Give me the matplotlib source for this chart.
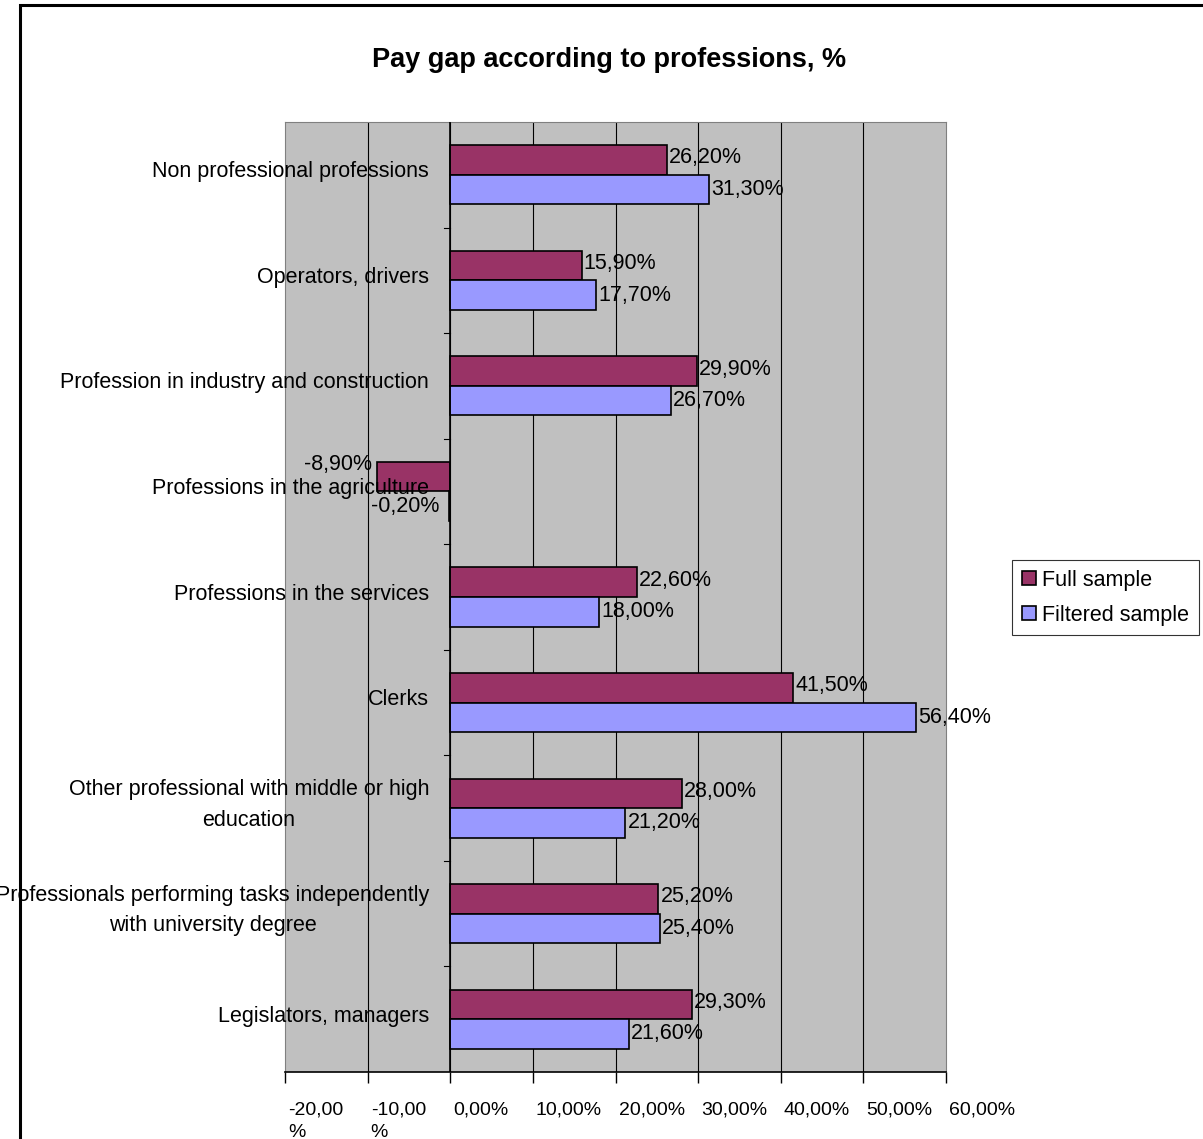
import numpy as np
import matplotlib.pyplot as plt
import matplotlib.transforms as mtrans
from matplotlib import patches

plt.rcParams['font.family'] = ['Liberation Sans', 'DejaVu Sans']

# categories listed top to bottom as in the chart
categories = ['Non professional professions',
              'Operators, drivers',
              'Profession in industry and construction',
              'Professions in the agriculture',
              'Professions in the services',
              'Clerks',
              'Other professional with middle or high\neducation',
              'Professionals performing tasks independently\nwith university degree',
              'Legislators, managers']
full_sample = [26.2, 15.9, 29.9, -8.9, 22.6, 41.5, 28.0, 25.2, 29.3]
filtered_sample = [31.3, 17.7, 26.7, -0.2, 18.0, 56.4, 21.2, 25.4, 21.6]
xticks = [-20, -10, 0, 10, 20, 30, 40, 50, 60]
xticklabels = ['-20,00\n%', '-10,00\n%', '0,00%', '10,00%', '20,00%',
               '30,00%', '40,00%', '50,00%', '60,00%']

def pct(v):
    return ('%.2f' % v).replace('.', ',') + '%'

W, H = 1203, 1139
fig = plt.figure(figsize=(W / 100, H / 100), dpi=100)
ax = fig.add_axes([285 / W, 1 - 1072 / H, (946 - 285) / W, (1072 - 122) / H])
ax.set_facecolor('#C0C0C0')

y = np.arange(len(categories))
h = 0.28
b1 = ax.barh(y - h / 2, full_sample, height=h, color='#993366',
             edgecolor='black', linewidth=1.2, label='Full sample', zorder=3)
b2 = ax.barh(y + h / 2, filtered_sample, height=h, color='#9999FF',
             edgecolor='black', linewidth=1.2, label='Filtered sample', zorder=3)

ax.set_xlim(-20, 60)
ax.set_ylim(len(categories) - 0.5, -0.5)

# gridlines
for x in xticks[1:-1]:
    ax.axvline(x, color='black', linewidth=0.8, zorder=1)
for s in ['top', 'right', 'left']:
    ax.spines[s].set_color('#808080')
ax.spines['bottom'].set_color('black')
ax.spines['bottom'].set_linewidth(1.2)

# category axis at zero with ticks between categories
ax.axvline(0, color='black', linewidth=1.2, zorder=4)
ax.set_yticks([])
for b in np.arange(0.5, len(categories) - 0.5, 1.0):
    ax.plot([-0.75, 0], [b, b], color='black', linewidth=0.8, zorder=4,
            clip_on=False)

ax.set_xticks(xticks)
ax.set_xticklabels(xticklabels, ha='left', fontsize=14, linespacing=1.45)
ax.tick_params(axis='x', direction='out', length=8, width=1, pad=13)
off = mtrans.ScaledTranslation(3 / 100, 0, fig.dpi_scale_trans)
for lab in ax.get_xticklabels():
    lab.set_transform(lab.get_transform() + off)

# category labels
for yi, c in zip(y, categories):
    ax.annotate(c, xy=(0, yi), xytext=(-21, 3), textcoords='offset pixels',
                ha='right', va='center', multialignment='center',
                fontsize=15.5, zorder=6, annotation_clip=False,
                linespacing=1.6)

# data labels
for bars, vals, dy, dxn in [(b1, full_sample, 2, -5), (b2, filtered_sample, 0, -9)]:
    for r, v in zip(bars, vals):
        yc = r.get_y() + r.get_height() / 2
        if v >= 0:
            ax.annotate(pct(v), xy=(v, yc), xytext=(2, dy),
                        textcoords='offset pixels', ha='left', va='center',
                        fontsize=15.5, zorder=6)
        else:
            ax.annotate(pct(v), xy=(v, yc), xytext=(dxn, dy + 10 if dxn == -5 else dy),
                        textcoords='offset pixels', ha='right', va='center',
                        fontsize=15.5, zorder=6)

fig.text(609 / W, 1 - 60 / H, 'Pay gap according to professions, %',
         ha='center', va='center', fontsize=19.5, fontweight='bold')

leg = fig.legend(handles=[b1, b2], loc='upper left',
                 bbox_to_anchor=(1012 / W, 1 - 560 / H), fontsize=15.5,
                 frameon=True, fancybox=False, handlelength=0.65,
                 handleheight=0.65, handletextpad=0.3, borderpad=0.45,
                 labelspacing=0.65, borderaxespad=0)
leg.get_frame().set_edgecolor('black')
leg.get_frame().set_linewidth(0.8)

# outer chart frame
fig.patches.append(patches.Rectangle((20 / W, -0.1), 1.2, 1 - 5 / H + 0.1,
                                     transform=fig.transFigure, fill=False,
                                     edgecolor='black', linewidth=2.2))

fig.savefig('out.png', dpi=100)
